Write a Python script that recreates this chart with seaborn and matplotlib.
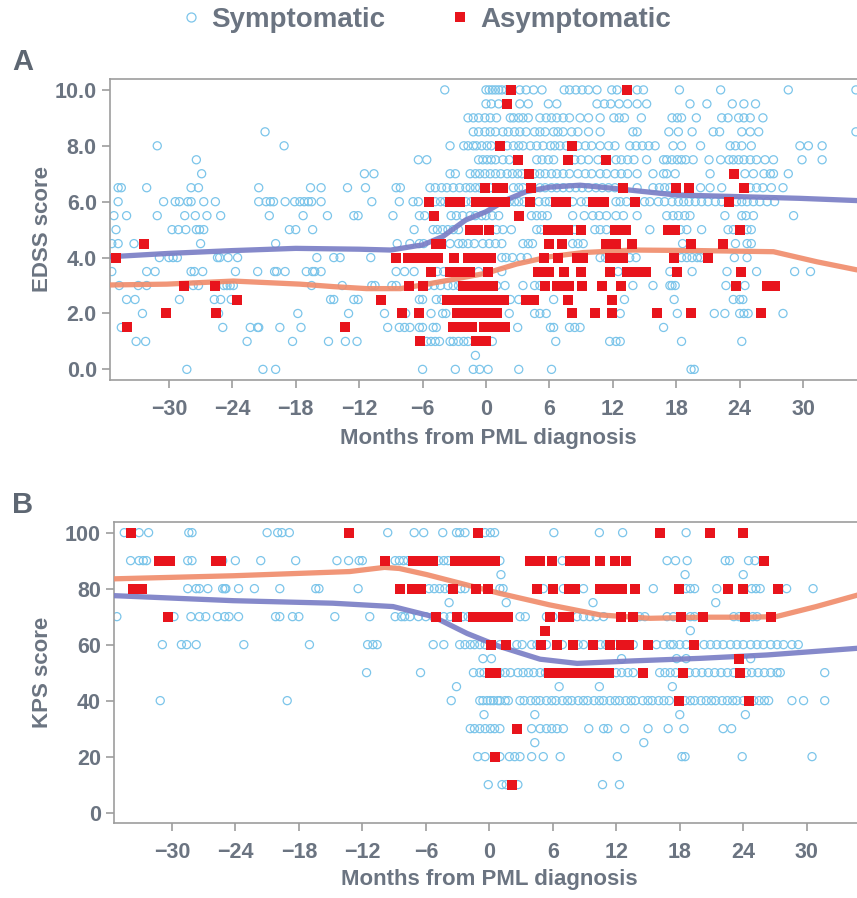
import matplotlib
matplotlib.use("Agg")
import matplotlib.pyplot as plt
from matplotlib.lines import Line2D
import pandas as pd
import seaborn as sns

# colours
SYM_COLOR = "#7cc5ea"
ASYM_COLOR = "#e8141c"
SYM_LINE = "#7b7fc6"
ASYM_LINE = "#f08d6d"
TEXT_COLOR = "#6b7481"
SPINE_COLOR = "#9d9d9d"

X_TICKS = [-30, -24, -18, -12, -6, 0, 6, 12, 18, 24, 30]
EDSS_TICKS = [0, 2, 4, 6, 8, 10]
KPS_TICKS = [0, 20, 40, 60, 80, 100]

# Panel A: EDSS score -> months from PML diagnosis
EDSS_SYM = {
    10.0: [-3.9, 0.0, 0.3, 0.6, 0.9, 1.2, 1.5, 1.9, 3.2, 3.8, 4.5, 5.3, 7.4, 7.9, 8.5, 9.1, 9.7, 10.5,
           11.9, 12.4, 14.3, 14.9, 18.3, 22.2, 28.6, 35.0],
    9.5: [0.0, 0.5, 1.2, 3.2, 4.0, 5.9, 6.7, 10.5, 11.2, 11.8, 12.6, 13.4, 14.3, 15.2, 19.3, 20.9, 23.3,
          24.4, 25.5],
    9.0: [-1.7, -1.2, -0.7, -0.1, 0.4, 1.0, 2.3, 2.6, 3.1, 3.5, 4.0, 5.1, 5.7, 6.2, 6.7, 7.3, 7.9, 8.9,
          9.7, 10.8, 12.1, 12.6, 13.1, 14.7, 17.6, 18.1, 18.5, 19.9, 22.3, 22.9, 23.9, 24.4, 25.0, 26.2],
    8.5: [-20.9, -1.2, -0.7, -0.1, 0.4, 0.9, 1.6, 2.1, 2.7, 3.2, 3.8, 4.6, 5.1, 5.6, 6.4, 6.8, 7.3, 8.1,
          8.7, 9.7, 10.8, 13.9, 14.3, 17.3, 18.2, 19.5, 21.5, 22.1, 24.2, 25.0, 25.8, 35.0],
    8.0: [-31.1, -19.1, -3.4, -2.1, -1.7, -1.2, -0.9, -0.4, 0.1, 0.5, 2.0, 2.6, 3.1, 3.5, 4.2, 4.8, 5.4,
          6.1, 6.5, 7.0, 7.6, 8.7, 9.4, 10.0, 10.8, 11.6, 12.2, 13.6, 14.2, 14.8, 15.4, 16.0, 17.7, 18.5,
          20.3, 23.1, 23.6, 24.2, 25.1, 29.7, 30.5, 31.8],
    7.5: [-27.4, -6.4, -5.6, -0.7, -0.3, 0.1, 0.5, 0.9, 1.6, 2.2, 4.8, 5.3, 5.9, 6.4, 8.4, 9.0, 9.7,
          10.6, 12.3, 12.8, 13.4, 14.0, 15.2, 16.8, 17.1, 17.6, 18.1, 18.5, 18.9, 19.6, 21.1, 22.2, 23.0,
          23.4, 23.9, 24.4, 25.0, 25.6, 26.4, 27.2, 29.9, 31.8],
    7.0: [-26.9, -11.5, -10.6, -3.4, -2.9, -1.5, -1.0, -0.6, -0.1, 0.4, 0.9, 1.4, 2.0, 2.5, 3.0, 3.4,
          4.6, 5.1, 5.6, 6.2, 6.7, 7.3, 7.9, 8.7, 9.4, 10.0, 10.8, 11.4, 12.2, 12.8, 13.4, 14.3, 15.8,
          16.8, 17.1, 17.9, 21.2, 24.5, 25.3, 26.3, 26.9, 27.2, 28.6],
    6.5: [-34.8, -34.5, -32.1, -27.9, -27.2, -21.5, -16.6, -15.6, -13.1, -11.4, -8.5, -8.1, -5.3, -4.8,
          -4.2, -3.7, -3.1, -2.5, -1.9, -1.5, -1.0, -0.6, 0.4, 2.6, 3.1, 3.5, 5.1, 5.6, 6.2, 6.7, 7.3,
          7.9, 8.5, 9.1, 9.7, 10.4, 11.0, 11.6, 12.2, 14.3, 15.8, 16.4, 16.9, 17.4, 20.3, 21.2, 22.3,
          25.0, 25.6, 26.2, 27.0, 28.1],
    6.0: [-34.8, -30.5, -29.4, -29.0, -28.2, -27.9, -26.7, -25.6, -21.5, -20.8, -20.4, -20.1, -19.0,
          -18.1, -17.6, -17.2, -16.8, -16.5, -15.6, -10.8, -8.2, -6.9, -6.4, -4.8, -4.3, -3.9, -1.9,
          -1.4, 2.2, 2.7, 3.1, 3.6, 5.0, 5.6, 6.0, 8.2, 9.0, 9.5, 12.3, 12.7, 13.3, 15.0, 15.5, 16.3,
          16.9, 17.6, 18.2, 18.7, 19.2, 19.8, 20.4, 21.0, 21.7, 22.3, 23.7, 24.2, 24.7, 25.3, 25.9,
          26.6, 27.3],
    5.5: [-35.2, -34.0, -31.1, -28.5, -27.5, -26.4, -25.1, -20.5, -17.3, -15.0, -12.5, -12.1, -8.8,
          -6.3, -5.8, -3.3, -2.8, -2.2, -1.5, -1.0, -0.4, 0.0, 0.6, 1.2, 4.3, 4.8, 5.3, 5.8, 8.2, 9.3,
          10.1, 10.7, 11.4, 12.3, 13.0, 14.3, 17.1, 17.7, 18.2, 18.8, 19.3, 22.6, 24.2, 24.6, 25.3, 29.1],
    5.0: [-35.0, -29.7, -29.1, -28.4, -27.4, -27.1, -26.7, -18.6, -18.0, -16.4, -6.8, -5.0, -4.6, -4.1,
          -3.6, -3.1, -2.6, 1.0, 1.6, 2.4, 4.8, 5.2, 8.4, 10.3, 10.8, 11.4, 15.5, 18.4, 19.0, 20.4,
          22.9, 23.4, 24.7, 25.1],
    4.5: [-35.4, -34.8, -33.3, -27.0, -19.9, -8.4, -7.2, -6.3, -5.9, -3.4, -2.6, -2.2, -1.7, -1.1,
          -0.3, 0.3, 0.9, 1.5, 3.5, 4.0, 4.4, 8.2, 8.7, 9.2, 18.6, 23.6, 24.7, 25.1],
    4.0: [-30.9, -30.0, -29.6, -29.2, -25.4, -25.2, -24.4, -23.5, -16.0, -14.4, -13.8, -10.9, 1.5,
          1.9, 2.5, 3.3, 3.9, 10.8, 11.3, 13.6, 14.2, 18.5, 19.0, 19.5, 20.0, 20.3, 23.5, 24.7],
    3.5: [-35.4, -32.1, -31.3, -27.9, -27.6, -26.8, -23.7, -21.6, -20.0, -19.8, -19.0, -17.0, -16.4,
          -16.2, -15.6, -8.5, -7.7, -6.8, -4.6, -4.0, -0.7, 1.5, 12.5, 17.4, 19.5, 22.8, 25.6, 29.2, 30.7],
    3.0: [-34.7, -32.9, -32.1, -27.7, -27.2, -24.8, -24.5, -24.2, -23.9, -16.5, -13.6, -10.8, -10.5,
          -8.9, -8.5, -5.5, -4.9, -4.3, -3.6, -3.1, -2.6, 1.0, 1.8, 3.5, 4.6, 5.1, 13.9, 15.8, 17.4,
          17.6, 17.9, 22.7, 24.5],
    2.5: [-34.0, -33.2, -29.0, -25.7, -25.1, -24.1, -14.7, -14.4, -12.5, -12.1, -6.3, -6.0, -4.7,
          -4.2, 2.3, 3.1, 6.4, 13.1, 17.8, 23.4, 24.0, 24.3],
    2.0: [-32.5, -25.3, -17.8, -13.0, -9.6, -7.6, -5.2, -4.1, -3.8, 2.2, 4.6, 5.1, 5.7, 12.7, 18.1,
          21.6, 22.6, 24.0, 24.4, 24.8, 28.1],
    1.5: [-34.5, -24.9, -22.3, -21.6, -21.5, -19.5, -17.5, -9.3, -8.2, -7.7, -7.2, -6.3, -6.0, -5.0,
          -4.7, 3.0, 6.1, 6.4, 7.9, 8.4, 8.9, 16.8],
    1.0: [-33.1, -32.2, -22.6, -18.3, -14.9, -13.3, -12.2, -5.6, -5.2, -4.8, -4.4, -3.4, -3.1, -2.6,
          -2.1, -1.7, 0.6, 6.6, 11.7, 12.3, 12.7, 18.5, 24.2],
    0.5: [-1.0],
    0.0: [-28.3, -21.1, -19.9, -6.0, -2.9, -1.2, -0.6, 0.2, 3.1, 6.2, 19.4, 19.7],
}

EDSS_ASYM = {
    10.0: [2.4, 13.3],
    9.5: [2.0],
    8.0: [1.3, 8.1],
    7.5: [3.0, 7.8, 11.4],
    7.0: [4.1, 23.5],
    6.5: [-0.1, 1.0, 1.6, 4.3, 13.0, 18.0, 19.2, 24.4],
    6.0: [-5.4, -3.4, -2.5, -0.9, -0.3, 0.2, 0.7, 1.3, 1.8, 4.2, 6.6, 7.1, 7.6, 10.1, 10.6, 11.2,
          14.1, 23.0],
    5.5: [-4.9, 3.1],
    5.0: [-1.5, -0.8, 0.3, 5.9, 6.4, 6.9, 7.3, 7.8, 9.0, 12.2, 12.7, 13.2, 17.2, 17.9, 24.0],
    4.5: [-32.4, -4.7, -4.3, 6.0, 7.2, 11.4, 12.3, 13.8, 19.4, 22.4],
    4.0: [-35.0, -8.5, -7.4, -6.4, -5.5, -4.5, -3.0, -1.7, -0.8, -0.1, 0.5, 5.5, 6.8, 8.6, 9.2, 11.7,
          12.3, 13.0, 17.8, 21.0],
    3.5: [-5.2, -3.4, -2.9, -2.4, -1.9, -1.5, 0.2, 4.9, 5.4, 6.0, 7.4, 9.0, 11.7, 13.3, 13.9, 14.5,
          15.1, 18.1, 24.1],
    3.0: [-28.6, -25.6, -7.3, -6.0, -2.2, -1.7, -1.2, -0.7, -0.2, 0.3, 0.7, 5.6, 6.7, 7.3, 7.9, 9.1,
          11.0, 12.8, 23.7, 26.6, 27.3],
    2.5: [-23.6, -9.9, -3.7, -3.1, -2.5, -1.8, -1.2, -0.5, 0.2, 0.9, 1.7, 3.8, 4.5, 7.8, 11.9],
    2.0: [-30.3, -25.5, -7.9, -6.3, -2.7, -1.9, -1.4, -0.9, -0.4, 0.0, 0.5, 1.0, 8.1, 10.3, 11.9,
          16.2, 19.4, 26.0],
    1.5: [-34.0, -13.3, -3.1, -2.3, -1.3, -0.2, 0.4, 1.3, 1.8],
    1.0: [-6.2, -0.9, -0.3, 0.0],
}

# smoothed trends, panel A
EDSS_SYM_TREND_X = [-35.6, -30, -24, -18, -12, -9, -6.6, -6, -4.1, -1.9, 0, 1.9, 3.8, 6, 8.9, 12,
                    18, 24, 29.7, 35.1]
EDSS_SYM_TREND_Y = [4.03, 4.15, 4.25, 4.33, 4.3, 4.27, 4.42, 4.45, 4.75, 5.35, 5.64, 6.06, 6.36,
                    6.52, 6.59, 6.48, 6.24, 6.18, 6.12, 6.04]
EDSS_ASYM_TREND_X = [-35.6, -30.2, -23.9, -17.6, -14.4, -11.3, -8.1, -6, -3.4, 0, 2.9, 6, 9.2,
                     13.9, 20.2, 27.2, 31.3, 35.1]
EDSS_ASYM_TREND_Y = [3.02, 3.05, 3.16, 3.05, 2.96, 2.89, 2.89, 3.02, 3.2, 3.44, 3.77, 4.03, 4.18,
                     4.27, 4.25, 4.21, 3.85, 3.56]

# Panel B: KPS score -> months from PML diagnosis
KPS_SYM = {
    100: [-34.5, -33.1, -32.2, -28.4, -28.1, -21.0, -20.0, -19.6, -18.9, -9.6, -7.1, -6.2, -4.4,
          -3.1, -2.8, -2.3, -0.4, 0.1, 0.5, 6.1, 10.4, 12.6, 18.6],
    90: [-33.9, -33.1, -32.7, -32.4, -28.5, -28.1, -25.2, -24.0, -21.6, -18.3, -14.4, -13.3, -12.3,
         -12.0, -8.9, -8.5, -8.1, -7.7, -4.8, -4.3, -3.9, 1.0, 6.9, 16.8, 17.6, 18.7, 22.3, 22.7,
         24.5, 25.1],
    85: [1.1, 18.5, 24.0],
    80: [-28.5, -27.7, -27.4, -26.6, -25.2, -25.0, -24.9, -23.7, -22.2, -19.8, -16.4, -16.1, -12.4,
         -5.7, -5.2, -4.7, -4.2, -3.7, -2.7, -2.3, 1.0, 1.3, 5.1, 7.0, 8.9, 15.5, 18.6, 19.0, 19.4,
         21.5, 24.8, 25.2, 25.6, 28.1, 30.6],
    75: [-3.8, 1.6, 9.8, 21.4],
    70: [-35.2, -29.8, -28.2, -27.4, -26.8, -25.7, -25.0, -24.6, -23.7, -20.2, -19.8, -18.6, -18.0,
         -14.6, -11.3, -8.9, -8.3, -8.0, -7.5, -6.7, -6.0, -5.3, -4.3, -3.7, -2.5, -2.0, 2.9, 3.4,
         5.4, 6.0, 8.3, 8.9, 9.5, 10.1, 10.8, 14.2, 14.7, 16.8, 17.4, 19.0, 19.4, 23.1, 23.6, 24.9,
         25.3],
    65: [19.0],
    60: [-30.9, -29.1, -28.6, -27.7, -23.2, -17.0, -11.5, -11.0, -10.6, -5.3, -4.3, -2.8, -2.3, -1.8,
         -1.4, -0.9, -0.4, 1.0, 2.6, 3.1, 4.0, 4.5, 5.4, 6.9, 8.4, 8.9, 10.5, 11.0, 12.0, 13.6, 15.8,
         16.5, 17.1, 17.4, 18.0, 18.6, 20.3, 20.9, 21.5, 22.1, 22.8, 23.4, 24.0, 24.7, 25.3, 25.9,
         26.6, 27.2, 27.8, 28.6, 29.2],
    55: [-0.6, 0.2, 12.5, 17.7, 18.6, 24.7],
    50: [-11.6, -6.5, -1.5, -0.9, -0.5, 1.0, 1.5, 2.0, 2.7, 3.2, 3.7, 4.2, 4.8, 5.3, 12.0, 12.5,
         13.1, 13.6, 16.1, 16.6, 17.1, 17.6, 18.9, 19.5, 20.1, 20.7, 21.3, 21.9, 22.5, 23.1, 24.3,
         24.8, 25.4, 26.0, 26.6, 27.2, 27.5, 31.7],
    45: [-3.1, 6.6, 10.4, 17.3],
    40: [-31.1, -19.1, -3.6, -0.9, -0.6, -0.2, 0.1, 0.4, 0.8, 1.0, 1.5, 1.8, 2.9, 3.3, 3.9, 4.4, 4.8,
         5.4, 5.9, 6.3, 6.9, 7.4, 7.8, 8.4, 8.9, 9.3, 9.9, 10.4, 10.8, 11.4, 11.9, 12.3, 12.9, 13.4,
         13.8, 14.5, 15.0, 15.4, 16.0, 16.5, 17.0, 18.5, 19.0, 19.4, 20.0, 20.5, 21.0, 21.4, 22.0,
         22.5, 23.0, 23.4, 24.0, 25.0, 25.5, 26.0, 26.4, 28.6, 29.7, 31.7],
    35: [-0.5, 4.3, 18.0, 24.2],
    30: [-1.8, -1.4, -0.9, -0.4, 0.1, 0.5, 1.0, 4.0, 4.8, 5.4, 5.9, 6.4, 7.0, 9.4, 10.8, 11.2, 12.8,
         15.0, 16.9, 18.4, 22.1, 22.9],
    25: [4.3, 14.6],
    20: [-1.1, -0.4, 1.0, 1.9, 2.4, 2.9, 4.0, 5.1, 6.7, 12.1, 18.2, 18.5, 23.9, 30.5],
    10: [-0.1, 1.2, 1.6, 2.7, 10.7, 12.3],
}

KPS_ASYM = {
    100: [-33.9, -13.3, -1.1, 16.1, 20.9, 24.0],
    90: [-31.2, -30.6, -30.2, -25.8, -25.4, -9.9, -7.2, -6.5, -5.9, -5.3, -3.2, -2.6, -2.0, -1.3,
         -0.6, 0.0, 0.5, 3.8, 4.8, 5.9, 7.6, 8.3, 9.0, 10.5, 11.9, 12.9, 26.0],
    80: [-33.7, -32.8, -8.4, -7.3, -6.5, -3.4, -1.3, -0.1, 4.5, 6.0, 7.5, 8.1, 10.5, 11.2, 11.9,
         12.5, 13.8, 17.9, 22.6, 24.0, 27.3],
    70: [-30.4, -5.0, -3.1, -1.5, -0.7, 0.1, 0.9, 1.8, 5.7, 7.0, 7.5, 12.4, 13.6, 18.1, 20.2, 24.2,
         26.6],
    65: [5.3],
    60: [0.2, 1.6, 4.9, 6.4, 7.9, 9.8, 11.4, 12.4, 13.2, 15.0, 19.3],
    55: [23.6],
    50: [0.1, 0.6, 5.6, 6.5, 7.2, 8.0, 8.8, 9.5, 10.5, 11.3, 14.5, 18.3, 23.7],
    40: [17.9, 24.5],
    30: [2.6],
    20: [0.5],
    10: [2.1],
}

# smoothed trends, panel B
KPS_SYM_TREND_X = [-35.5, -24.2, -14.8, -9.1, -7.2, -5.3, -2.1, 1, 4.8, 8.3, 13.6, 19.9, 26.2, 34.8]
KPS_SYM_TREND_Y = [77.5, 75.7, 74.8, 73.6, 71.8, 70.0, 64.0, 59.3, 54.8, 53.3, 54.2, 55.1, 56.3, 58.7]
KPS_ASYM_TREND_X = [-35.5, -24.2, -13.2, -9.9, -8.5, -5.9, -2.1, 1, 5.7, 10.5, 15.2, 19.9, 24.6,
                    27.1, 30.9, 34.8]
KPS_ASYM_TREND_Y = [83.5, 84.6, 86.1, 87.6, 87.2, 85.0, 81.3, 78.3, 74.2, 70.6, 69.4, 69.8, 69.8,
                    70.0, 73.6, 77.7]


def to_frame(rows):
    records = [(m, score) for score, months in rows.items() for m in months]
    return pd.DataFrame(records, columns=["month", "score"])


def draw_panel(ax, sym, asym, sym_trend, asym_trend, xlim, ylim, yticks, ylabel, yfmt):
    sns.scatterplot(data=to_frame(sym), x="month", y="score", ax=ax, marker="o", s=34,
                    facecolor="none", edgecolor=SYM_COLOR, linewidth=0.9, zorder=2)
    sns.lineplot(x=sym_trend[0], y=sym_trend[1], ax=ax, color=SYM_LINE, lw=3.8, alpha=0.92,
                 zorder=3)
    sns.lineplot(x=asym_trend[0], y=asym_trend[1], ax=ax, color=ASYM_LINE, lw=3.8, alpha=0.92,
                 zorder=3)
    sns.scatterplot(data=to_frame(asym), x="month", y="score", ax=ax, marker="s", s=44,
                    color=ASYM_COLOR, linewidth=0, zorder=4)

    ax.set_xlim(*xlim)
    ax.set_ylim(*ylim)
    ax.set_xticks(X_TICKS)
    ax.set_yticks(yticks)
    ax.set_yticklabels([yfmt.format(v) for v in yticks])
    ax.set_xticklabels([str(v).replace("-", "\u2212") for v in X_TICKS])

    for side in ["top", "left", "bottom"]:
        ax.spines[side].set_color(SPINE_COLOR)
        ax.spines[side].set_linewidth(1.2)
    ax.spines["right"].set_visible(False)
    ax.tick_params(axis="both", which="major", bottom=True, left=True, direction="out",
                   colors=SPINE_COLOR, width=1.2, length=5.5,
                   labelcolor=TEXT_COLOR, labelsize=15.5)
    ax.tick_params(axis="x", pad=8)
    ax.tick_params(axis="y", pad=4)
    for lab in ax.get_xticklabels() + ax.get_yticklabels():
        lab.set_fontweight("bold")

    ax.set_xlabel("Months from PML diagnosis", fontsize=16, fontweight="bold", color=TEXT_COLOR)
    ax.set_ylabel(ylabel, fontsize=16, fontweight="bold", color=TEXT_COLOR)


sns.set_style("ticks")
plt.rcParams["font.family"] = ["Liberation Sans", "DejaVu Sans"]

fig = plt.figure(figsize=(8.57, 8.98), dpi=100)

ax_a = fig.add_axes([110 / 857, 1 - 380 / 898, 747 / 857, 301 / 898])
draw_panel(ax_a, EDSS_SYM, EDSS_ASYM,
           (EDSS_SYM_TREND_X, EDSS_SYM_TREND_Y), (EDSS_ASYM_TREND_X, EDSS_ASYM_TREND_Y),
           (-35.57, 35.1), (-0.38, 10.39), EDSS_TICKS, "EDSS score", "{:.1f}")
ax_a.xaxis.set_label_coords(0.507, -0.16)
ax_a.yaxis.set_label_coords(-0.076, 0.5)

ax_b = fig.add_axes([114 / 857, 1 - 823 / 898, 743 / 857, 301 / 898])
draw_panel(ax_b, KPS_SYM, KPS_ASYM,
           (KPS_SYM_TREND_X, KPS_SYM_TREND_Y), (KPS_ASYM_TREND_X, KPS_ASYM_TREND_Y),
           (-35.47, 34.75), (-3.7, 103.8), KPS_TICKS, "KPS score", "{:d}")
ax_b.xaxis.set_label_coords(0.505, -0.153)
ax_b.yaxis.set_label_coords(-0.082, 0.5)

# panel letters
fig.text(0.014, 1 - 62 / 898, "A", fontsize=21, fontweight="bold", color="#5d6672", va="center")
fig.text(0.014, 1 - 505 / 898, "B", fontsize=21, fontweight="bold", color="#5d6672", va="center")

# shared legend on top
handles = [
    Line2D([], [], ls="none", marker="o", markersize=6.5, markerfacecolor="none",
           markeredgecolor=SYM_COLOR, markeredgewidth=0.9, label="Symptomatic"),
    Line2D([], [], ls="none", marker="s", markersize=6.5, markerfacecolor=ASYM_COLOR,
           markeredgewidth=0, label="Asymptomatic"),
]
leg = fig.legend(handles=handles, loc="center", bbox_to_anchor=(0.498, 1 - 20 / 898), ncol=2,
                 frameon=False, handlelength=0.6, handletextpad=0.42, columnspacing=2.4,
                 prop={"size": 20, "weight": "bold"})
for t in leg.get_texts():
    t.set_color(TEXT_COLOR)

fig.savefig("out.png", dpi=100)
